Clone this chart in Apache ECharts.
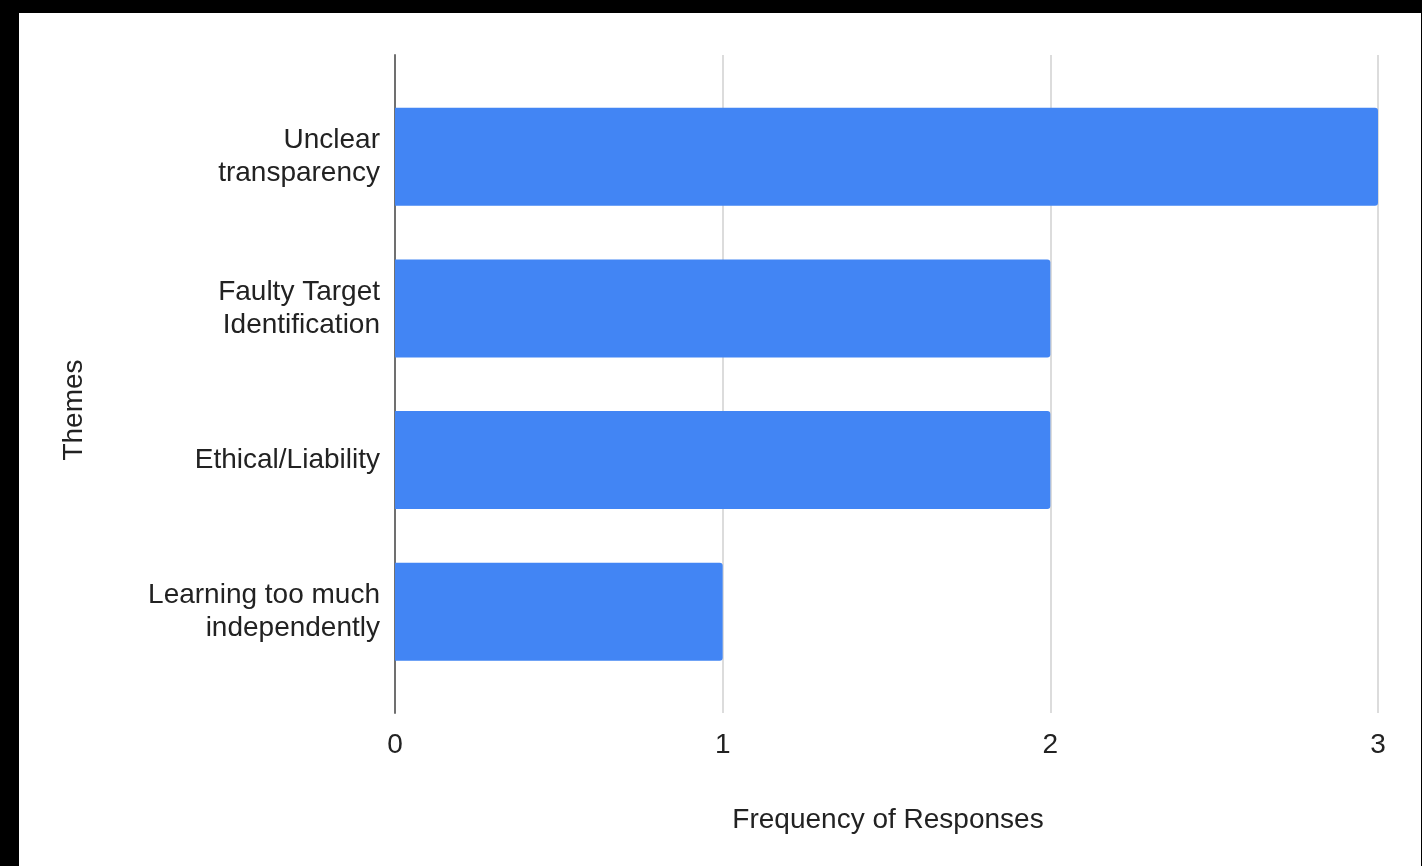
<!DOCTYPE html>
<html>
<head>
<meta charset="utf-8">
<script src="https://cdn.jsdelivr.net/npm/echarts@6/dist/echarts.min.js"></script>
<style>
  html, body { margin: 0; padding: 0; background: #000; width: 1422px; height: 866px; overflow: hidden; }
  #chart { position: absolute; left: 19px; top: 13px; width: 1402px; height: 853px; background: #fff; }
</style>
</head>
<body>
<div id="chart"></div>
<script>
// Themes and how often each came up in responses
const themes = [
  'Unclear\ntransparency',
  'Faulty Target\nIdentification',
  'Ethical/Liability',
  'Learning too much\nindependently'
];
const frequency = [3, 2, 2, 1];
const xTicks = [0, 1, 2, 3];

const FONT = 'Liberation Sans';
const FONT_SIZE = 28;
const TEXT = '#222';

const chart = echarts.init(document.getElementById('chart'), null, { renderer: 'canvas' });

chart.setOption({
  animation: false,
  textStyle: { fontFamily: FONT },
  grid: [
    // frame for the value axis: gridlines and tick labels
    { left: 376, right: 43, top: 42, bottom: 153 },
    // band area that holds the bars
    { left: 376, right: 43, top: 68, bottom: 178.5 }
  ],
  xAxis: [
    {
      gridIndex: 0,
      type: 'value',
      min: xTicks[0],
      max: xTicks[xTicks.length - 1],
      interval: 1,
      axisLine: { show: false },
      axisTick: { show: false },
      splitLine: { show: true, lineStyle: { color: '#dcdcdc', width: 2 } },
      axisLabel: {
        margin: 18,
        fontFamily: FONT,
        fontSize: FONT_SIZE,
        color: TEXT
      }
    },
    {
      gridIndex: 1,
      type: 'value',
      min: xTicks[0],
      max: xTicks[xTicks.length - 1],
      show: false
    }
  ],
  yAxis: [
    {
      gridIndex: 0,
      type: 'value',
      min: 0,
      max: 1,
      axisLine: { show: true, onZero: false, lineStyle: { color: '#707070', width: 2 } },
      axisTick: { show: false },
      axisLabel: { show: false },
      splitLine: { show: false }
    },
    {
      gridIndex: 1,
      type: 'category',
      inverse: true,
      data: themes,
      axisLine: { show: false },
      axisTick: { show: false },
      splitLine: { show: false },
      axisLabel: {
        margin: 15,
        fontFamily: FONT,
        fontSize: FONT_SIZE,
        lineHeight: 33,
        padding: [6, 0, 0, 0],
        color: TEXT,
        align: 'right'
      }
    }
  ],
  series: [
    {
      type: 'bar',
      xAxisIndex: 1,
      yAxisIndex: 1,
      data: frequency,
      barCategoryGap: '35.4%',
      itemStyle: { color: '#4285f4', borderRadius: [0, 3, 3, 0] },
      z: 3
    }
  ],
  graphic: [
    {
      type: 'text',
      x: 869,
      y: 807,
      style: {
        text: 'Frequency of Responses',
        fontFamily: FONT,
        fontSize: FONT_SIZE,
        fill: TEXT,
        align: 'center',
        verticalAlign: 'middle'
      }
    },
    {
      type: 'text',
      x: 55,
      y: 397,
      rotation: Math.PI / 2,
      style: {
        text: 'Themes',
        fontFamily: FONT,
        fontSize: FONT_SIZE,
        fill: TEXT,
        align: 'center',
        verticalAlign: 'middle'
      }
    }
  ]
});
</script>
</body>
</html>
